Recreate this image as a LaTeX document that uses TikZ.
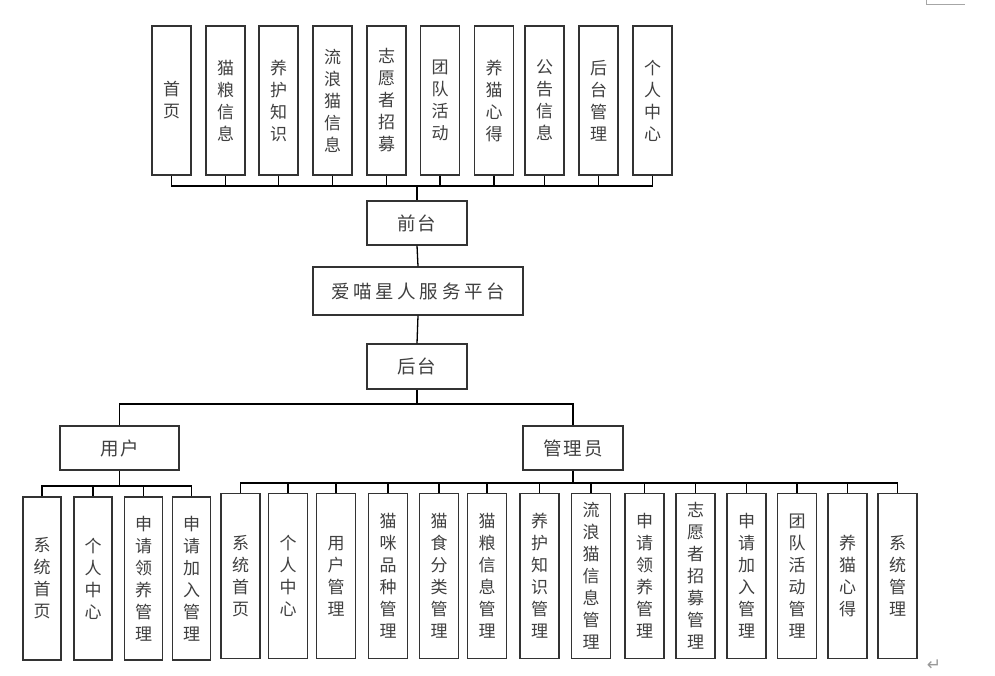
\documentclass[tikz,border=0pt]{standalone}
\usepackage{fontspec}
\newfontfamily\cjk{Noto Sans CJK SC}
\newfontfamily\cjkwide[LetterSpace=10]{Noto Sans CJK SC}
\newfontfamily\cjkwider[LetterSpace=20]{Noto Sans CJK SC}
\newfontfamily\symfont{DejaVu Sans}
\begin{document}
\begin{tikzpicture}[x=1pt,y=-1pt,
  box/.style={draw=black!80,line width=1.1pt,fill=white,inner sep=0pt,align=center,
    font=\cjk\fontsize{17}{22}\selectfont,text=black!75},
  tbox/.style={box,minimum width=39pt,minimum height=149pt},
  ubox/.style={box,minimum width=38pt,minimum height=163pt},
  abox/.style={box,minimum width=39pt,minimum height=165pt},
  hbox/.style={box,minimum width=100pt,minimum height=44pt,font=\cjkwide\fontsize{18.5}{22}\selectfont},
  conn/.style={draw=black,line width=1.3pt}]
\useasboundingbox (0,0) rectangle (995,675);
\fill[white] (0,0) rectangle (995,675);
% top row
\node[tbox] (t1) at (171.5,100.5) {首\\页};
\node[tbox] (t2) at (225.5,100.5) {猫\\粮\\信\\息};
\node[tbox] (t3) at (278.5,100.5) {养\\护\\知\\识};
\node[tbox] (t4) at (332.5,100.5) {流\\浪\\猫\\信\\息};
\node[tbox] (t5) at (386.5,100.5) {志\\愿\\者\\招\\募};
\node[tbox] (t6) at (440,100.5) {团\\队\\活\\动};
\node[tbox] (t7) at (494,100.5) {养\\猫\\心\\得};
\node[tbox] (t8) at (544.5,100.5) {公\\告\\信\\息};
\node[tbox] (t9) at (598.5,100.5) {后\\台\\管\\理};
\node[tbox] (t10) at (652.5,100.5) {个\\人\\中\\心};
% middle
\node[hbox] (qt) at (417,223) {前台};
\node[hbox,minimum width=210pt,minimum height=48pt,font=\cjkwider\fontsize{18.5}{22}\selectfont] (pf) at (418,291) {爱喵星人服务平台};
\node[hbox,minimum height=45pt] (ht) at (417,366.5) {后台};
\node[hbox,minimum width=119pt] (yh) at (119.5,448) {用户};
\node[hbox] (gly) at (573,448) {管理员};
% user children
\node[ubox] (u1) at (42,578.5) {系\\统\\首\\页};
\node[ubox] (u2) at (93,578.5) {个\\人\\中\\心};
\node[ubox] (u3) at (143.5,578.5) {申\\请\\领\\养\\管\\理};
\node[ubox,line width=1.5pt] (u4) at (191.5,578.5) {申\\请\\加\\入\\管\\理};
% admin children
\node[abox,line width=1.5pt] (a1) at (240.5,576) {系\\统\\首\\页};
\node[abox] (a2) at (288,576) {个\\人\\中\\心};
\node[abox] (a3) at (336,576) {用\\户\\管\\理};
\node[abox] (a4) at (388,576) {猫\\咪\\品\\种\\管\\理};
\node[abox] (a5) at (439,576) {猫\\食\\分\\类\\管\\理};
\node[abox,line width=1.5pt] (a6) at (487,576) {猫\\粮\\信\\息\\管\\理};
\node[abox,line width=1.5pt] (a7) at (539.5,576) {养\\护\\知\\识\\管\\理};
\node[abox,line width=1.5pt] (a8) at (591,576) {流\\浪\\猫\\信\\息\\管\\理};
\node[abox,line width=1.5pt] (a9) at (644.5,576) {申\\请\\领\\养\\管\\理};
\node[abox,line width=1.5pt] (a10) at (695.5,576) {志\\愿\\者\\招\\募\\管\\理};
\node[abox,line width=1.5pt] (a11) at (746.5,576) {申\\请\\加\\入\\管\\理};
\node[abox,line width=1.5pt] (a12) at (797,576) {团\\队\\活\\动\\管\\理};
\node[abox,line width=1.5pt] (a13) at (847.5,576) {养\\猫\\心\\得};
\node[abox,line width=1.5pt] (a14) at (897.5,576) {系\\统\\管\\理};
% bus coordinates
\coordinate (topbus) at (417,186);
\coordinate (hbus) at (417,404);
\coordinate (ubus) at (119.5,486);
\coordinate (abus) at (573,483);
% connectors
\foreach \i in {1,...,10} \draw[conn] (t\i.south) |- (topbus);
\draw[conn] (topbus) -- (qt.north);
\draw[conn] (qt.south) -- (pf.north);
\draw[conn] (pf.south) -- (ht.north);
\draw[conn] (ht.south) -- (hbus);
\draw[conn] (yh.north) |- (hbus);
\draw[conn] (gly.north) |- (hbus);
\draw[conn] (yh.south) -- (ubus);
\foreach \i in {1,...,4} \draw[conn] (u\i.north) |- (ubus);
\draw[conn] (gly.south) -- (abus);
\foreach \i in {1,...,14} \draw[conn] (a\i.north) |- (abus);
% page marks
\draw[gray!70,line width=1pt] (926,0) -- (926,4) -- (965,4);
\node[text=gray!80,font=\symfont\fontsize{17}{17}\selectfont,inner sep=0pt] (ret) at (934,665) {↵};
\end{tikzpicture}
\end{document}
